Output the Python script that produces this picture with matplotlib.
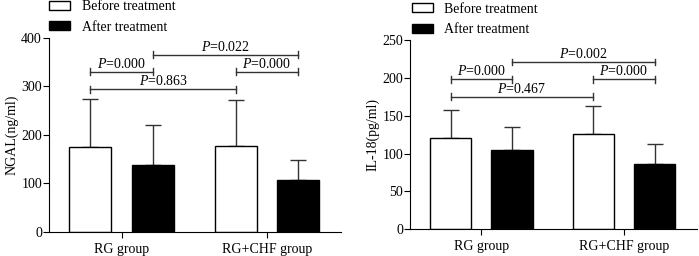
import numpy as np
import matplotlib
matplotlib.use('Agg')
import matplotlib.pyplot as plt

plt.rcParams['font.family'] = 'Liberation Serif'
plt.rcParams['mathtext.fontset'] = 'custom'
plt.rcParams['mathtext.it'] = 'Liberation Serif:italic'
plt.rcParams['mathtext.rm'] = 'Liberation Serif'

groups = ['RG group', 'RG+CHF group']
series = ['Before treatment', 'After treatment']

# NGAL (ng/ml)
ngal_before = [175, 178]
ngal_before_sd = [100, 93]
ngal_after = [139, 108]
ngal_after_sd = [82, 41]

# IL-18 (pg/ml)
il18_before = [120, 126]
il18_before_sd = [38, 37]
il18_after = [105, 86]
il18_after_sd = [30, 27]

# brackets: (bar from, bar to, height, label)
ngal_pvals = [(0, 2, 294, '0.863'), (0, 1, 330, '0.000'), (2, 3, 330, '0.000'), (1, 3, 365, '0.022')]
il18_pvals = [(0, 2, 175, '0.467'), (0, 1, 198, '0.000'), (2, 3, 198, '0.000'), (1, 3, 221, '0.002')]

fig = plt.figure(figsize=(6.99, 2.56), dpi=100)

def panel(rect, before, bsd, after, asd, pvals, ymax, ystep, ylabel, leg_anchor):
    ax = fig.add_axes(rect)
    x = np.arange(len(groups))
    off = 0.215
    w = 0.29
    ax.bar(x - off, before, w, color='white', edgecolor='black', linewidth=1, label=series[0], zorder=2)
    ax.bar(x + off, after, w, color='black', edgecolor='black', linewidth=1, label=series[1], zorder=2)
    ax.errorbar(x - off, before, yerr=[np.zeros(2), bsd], fmt='none', ecolor='#333333',
                elinewidth=1, capsize=6, capthick=1, zorder=1)
    ax.errorbar(x + off, after, yerr=[np.zeros(2), asd], fmt='none', ecolor='#333333',
                elinewidth=1, capsize=6, capthick=1, zorder=1)
    centers = [x[0] - off, x[0] + off, x[1] - off, x[1] + off]
    tick = ymax * 0.018
    for a, b, h, lab in pvals:
        x1, x2 = centers[a], centers[b]
        ax.plot([x1, x2], [h, h], color='#333333', lw=1)
        ax.plot([x1, x1], [h - tick, h + tick], color='#333333', lw=1)
        ax.plot([x2, x2], [h - tick, h + tick], color='#333333', lw=1)
        ax.text((x1 + x2) / 2, h + tick * 0.3, '$\\it{P}$=' + lab, ha='center', va='bottom', fontsize=10)
    ax.set_xlim(-0.5, 1.51)
    ax.set_ylim(0, ymax)
    ax.set_yticks(np.arange(0, ymax + 1, ystep))
    ax.set_xticks(x)
    ax.set_xticklabels(groups, fontsize=10)
    ax.tick_params(axis='y', labelsize=10, length=4, pad=1)
    ax.tick_params(axis='x', length=4, pad=4)
    ax.set_ylabel(ylabel, fontsize=10, labelpad=2)
    for s in ['top', 'right']:
        ax.spines[s].set_visible(False)
    ax.legend(loc='upper left', bbox_to_anchor=leg_anchor, bbox_transform=fig.transFigure,
              frameon=False, fontsize=10, borderpad=0, borderaxespad=0,
              handlelength=1.55, handleheight=0.6, handletextpad=0.8, labelspacing=0.55)
    return ax

panel([0.070, 0.094, 0.418, 0.758], ngal_before, ngal_before_sd, ngal_after, ngal_after_sd,
      ngal_pvals, 400, 100, 'NGAL(ng/ml)', (0.070, 1.0))
panel([0.5866, 0.104, 0.41, 0.740], il18_before, il18_before_sd, il18_after, il18_after_sd,
      il18_pvals, 250, 50, 'IL-18(pg/ml)', (0.589, 0.99))

fig.savefig('out.png', dpi=100)
